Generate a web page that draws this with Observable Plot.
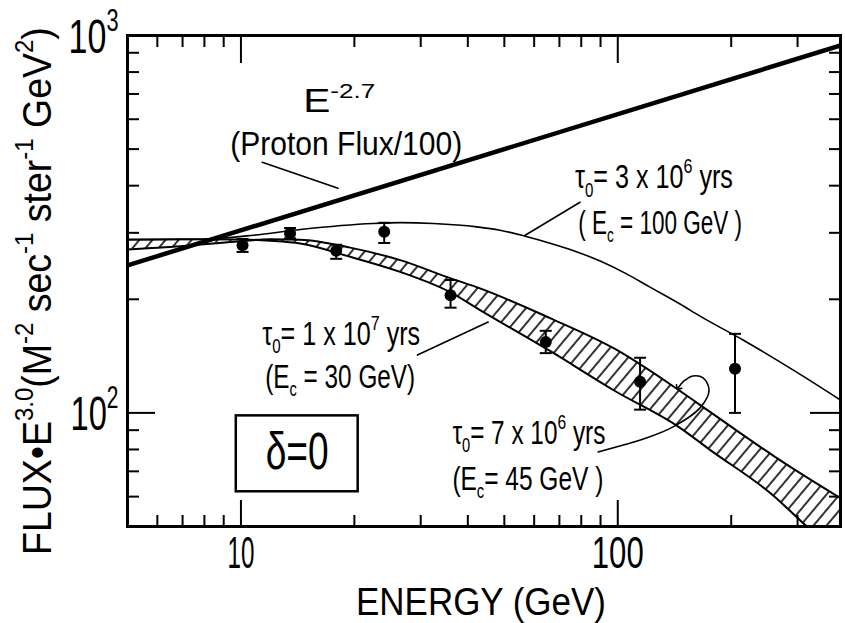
<!DOCTYPE html>
<html><head><meta charset="utf-8">
<script src="https://cdn.jsdelivr.net/npm/d3@7"></script>
<script src="https://cdn.jsdelivr.net/npm/@observablehq/plot@0.6"></script>
<style>
html,body{margin:0;padding:0;background:#fff;}
svg{display:block;}
</style></head><body><div id="chart"></div>
<script>
// ---- data ----
const pointEnergy = [10.1, 13.5, 17.9, 24.0, 36.0, 64.4, 114.6, 204.7];
const pointFlux   = [278, 299, 269, 302, 205, 154, 121, 131];
const pointLow    = [267, 290, 256, 282, 190, 144, 102, 100];
const pointHigh   = [289, 309, 279, 319, 225, 165, 140, 162];

const protonEnergy = [5, 390];
const protonFlux   = [246, 941];

const curve3e6Energy = [5.0, 7.8, 10.8, 14.4, 22.4, 26.5, 32.4, 42.3, 48.7, 56.8, 66.1, 77.0, 89.8, 104.6, 121.8, 146.3, 165.3, 215, 291.7, 396];
const curve3e6Flux   = [287.7, 288.5, 295.7, 306.2, 317.6, 319.2, 317.6, 311.1, 304.8, 293.9, 281.7, 268.3, 252.5, 234.6, 215.4, 194.3, 180.5, 156.0, 130.0, 107.1];

const bandEnergy = [5.0, 6.91, 9.96, 11.96, 14.37, 19.5, 26.45, 35.9, 43.1, 66.1, 98.3, 146.3, 175.7, 261.3, 310, 396];
const curve1e7Flux = [288.0, 288.5, 288.2, 285.9, 281.1, 259.2, 236.4, 208.9, 187.3, 145.9, 114.3, 91.3, 79.8, 59.9, 51.1, 42.1];
const curve7e6Flux = [271.1, 276.5, 285.1, 288.5, 287.7, 274.1, 254.0, 227.6, 213.7, 178.3, 147.7, 114.3, 100.6, 76.5, 68.5, 58.9];

const xTickValues = [10, 100];
const xTickLabels = ["10", "100"];
const yTickValues = [100, 1000];
const yTickLabels = ["10^{2}", "10^{3}"];
const xMinorTicks = [6, 7, 8, 9, 20, 30, 40, 50, 60, 70, 80, 90, 200, 300];
const yMinorTicks = [60, 70, 80, 90, 200, 300, 400, 500, 600, 700, 800, 900];
const yMajorTicks = [100];

const xLabel = "ENERGY (GeV)";
const yLabel = "FLUX•E^{3.0}(M^{-2} sec^{-1} ster^{-1} GeV^{2})";

const annotationText = ["E^{-2.7}", "(Proton Flux/100)", "τ_{0}= 3 x 10^{6} yrs", "( E_{c} = 100 GeV )",
  "τ_{0}= 1 x 10^{7} yrs", "(E_{c} = 30 GeV)", "τ_{0}= 7 x 10^{6} yrs", "(E_{c}= 45 GeV )"];
const annotationEnergy = [14.63, 9.37, 77.0, 78.5, 11.39, 11.6, 36.4, 36.4];
const annotationFlux   = [625.7, 481.4, 393.7, 297.5, 151.3, 116.5, 82.8, 62.6];

const arrowFromEnergy = [11.39, 79.4, 29.4];
const arrowFromFlux   = [461.4, 361.5, 142.3];
const arrowToEnergy   = [18.1, 56.8, 45.3];
const arrowToFlux     = [393.7, 295.7, 174.1];
const arrowBend       = [0, -25, 10];

const loopEnergy = [88.7, 119.6, 140.2, 165.3, 174.7, 168.4, 158.4, 149.9, 144.6];
const loopFlux   = [78.8, 85.9, 91.8, 103.1, 115.0, 123.8, 125.3, 121.5, 116.5];

const boxEnergy = [9.72, 20.47];
const boxFlux   = [61.8, 98.2];
const boxText = "δ=0";
const boxTextEnergy = 14.1;
const boxTextFlux = 78.8;

// ---- layout / style ----
const W = 845, H = 623, mL = 127, mR = 5, mT = 35, mB = 97;
const frameW = W - mL - mR, frameH = H - mT - mB;
const FONT = '"Liberation Sans Narrow", "Liberation Sans", Arial, sans-serif';
const textWidths = {
  "E^{-2.7}": 72, "(Proton Flux/100)": 232, "τ_{0}= 3 x 10^{6} yrs": 158, "( E_{c} = 100 GeV )": 164,
  "τ_{0}= 1 x 10^{7} yrs": 158, "(E_{c} = 30 GeV)": 150, "τ_{0}= 7 x 10^{6} yrs": 153, "(E_{c}= 45 GeV )": 151,
  "δ=0": 63, "ENERGY (GeV)": 250, "10": 27, "100": 52, "10^{2}": 48, "10^{3}": 50
};
textWidths[yLabel] = 528;

// ---- tables ----
const points = pointEnergy.map((e, i) => ({e, f: pointFlux[i], lo: pointLow[i], hi: pointHigh[i]}));
const proton = protonEnergy.map((e, i) => ({e, f: protonFlux[i]}));
const curve3e6 = curve3e6Energy.map((e, i) => ({e, f: curve3e6Flux[i]}));
const band = bandEnergy.map((e, i) => ({e, a: curve1e7Flux[i], b: curve7e6Flux[i]}));
const annotations = annotationText.map((t, i) => ({t, e: annotationEnergy[i], f: annotationFlux[i]}));
const arrows = arrowFromEnergy.map((e, i) => ({e1: e, f1: arrowFromFlux[i], e2: arrowToEnergy[i], f2: arrowToFlux[i], bend: arrowBend[i]}));
const loop = loopEnergy.map((e, i) => ({e, f: loopFlux[i]}));
const xTicks = xTickValues.map((v, i) => ({v, t: xTickLabels[i]}));
const yTicks = yTickValues.map((v, i) => ({v, t: yTickLabels[i]}));

const capSymbol = {draw(ctx, size) { const r = Math.sqrt(size / Math.PI); ctx.moveTo(-r, 0); ctx.lineTo(r, 0); }};

const chart = Plot.plot({
  width: W, height: H, marginLeft: mL, marginRight: mR, marginTop: mT, marginBottom: mB,
  x: {type: "log", domain: [5, 390], axis: null},
  y: {type: "log", domain: [50, 1000], axis: null},
  style: {fontFamily: FONT, background: "white", color: "black"},
  marks: [
    Plot.areaY(band, {x: "e", y1: "a", y2: "b", fill: "url(#hatch)", curve: "monotone-x", clip: true}),
    Plot.line(band, {x: "e", y: "a", stroke: "black", strokeWidth: 2, curve: "monotone-x", clip: true}),
    Plot.line(band, {x: "e", y: "b", stroke: "black", strokeWidth: 2, curve: "monotone-x", clip: true}),
    Plot.line(curve3e6, {x: "e", y: "f", stroke: "black", strokeWidth: 1.6, curve: "monotone-x", clip: true}),
    Plot.line(proton, {x: "e", y: "f", stroke: "black", strokeWidth: 4.5, clip: true}),
    Plot.ruleX(points, {x: "e", y1: "lo", y2: "hi", stroke: "black", strokeWidth: 2}),
    Plot.dot(points, {x: "e", y: "lo", symbol: capSymbol, r: 6, stroke: "black", strokeWidth: 2}),
    Plot.dot(points, {x: "e", y: "hi", symbol: capSymbol, r: 6, stroke: "black", strokeWidth: 2}),
    Plot.dot(points, {x: "e", y: "f", r: 6, fill: "black"}),
    Plot.rect([boxText], {x1: () => boxEnergy[0], x2: () => boxEnergy[1], y1: () => boxFlux[0], y2: () => boxFlux[1], fill: "white", stroke: "black", strokeWidth: 2.5}),
    Plot.text([boxText], {x: () => boxTextEnergy, y: () => boxTextFlux, text: d => d, fontSize: 52, lineAnchor: "middle", textAnchor: "middle", fill: "black"}),
    Plot.text(annotations, {x: "e", y: "f", text: "t", textAnchor: "start", lineAnchor: "bottom", fontSize: 33, fill: "black"}),
    Plot.arrow(arrows, {x1: "e1", y1: "f1", x2: "e2", y2: "f2", bend: "bend", stroke: "black", strokeWidth: 1.6, headLength: 11}),
    Plot.line(loop, {x: "e", y: "f", curve: "catmull-rom", stroke: "black", strokeWidth: 1.6, markerEnd: "arrow"}),
    // ticks, inward
    Plot.tickX(xMinorTicks, {x: d => d, insetTop: frameH - 11, strokeWidth: 2}),
    Plot.tickX(xTickValues, {x: d => d, insetTop: frameH - 26, strokeWidth: 2}),
    Plot.tickX(xMinorTicks, {x: d => d, insetBottom: frameH - 12, strokeWidth: 2}),
    Plot.tickX(xTickValues, {x: d => d, insetBottom: frameH - 28, strokeWidth: 2}),
    Plot.tickY(yMinorTicks, {y: d => d, insetRight: frameW - 12, strokeWidth: 2}),
    Plot.tickY(yMajorTicks, {y: d => d, insetRight: frameW - 28, strokeWidth: 2}),
    Plot.tickY(yMinorTicks, {y: d => d, insetLeft: frameW - 11, strokeWidth: 2}),
    Plot.tickY(yMajorTicks, {y: d => d, insetLeft: frameW - 30, strokeWidth: 2}),
    Plot.frame({stroke: "black", strokeWidth: 3}),
    // tick labels
    Plot.text(xTicks, {x: "v", text: "t", frameAnchor: "bottom", lineAnchor: "bottom", dy: 41, fontSize: 45, fill: "black"}),
    Plot.text(yTicks, {y: "v", text: "t", frameAnchor: "left", textAnchor: "end", lineAnchor: "bottom", dx: -9, dy: 17, fontSize: 48, fill: "black"}),
    // axis titles
    Plot.text([xLabel], {text: d => d, frameAnchor: "bottom", lineAnchor: "bottom", dx: -3, dy: 88, fontSize: 38, fill: "black"}),
    Plot.text([yLabel], {text: d => d, frameAnchor: "left", textAnchor: "start", rotate: -90, lineAnchor: "bottom", dx: -77, dy: 274, fontSize: 40, fill: "black"})
  ]
});

const ns = "http://www.w3.org/2000/svg";
const svg = chart.tagName.toLowerCase() === "svg" ? chart : chart.querySelector("svg");
const defs = document.createElementNS(ns, "defs");
defs.innerHTML = '<pattern id="hatch" patternUnits="userSpaceOnUse" width="10" height="10" patternTransform="rotate(40)"><rect width="10" height="10" fill="white"/><line x1="1" y1="0" x2="1" y2="10" stroke="black" stroke-width="1.6"/></pattern>';
svg.insertBefore(defs, svg.firstChild);
document.getElementById("chart").appendChild(chart);

function richify(t) {
  const s = t.textContent;
  if (!/[\^_]\{/.test(s)) return;
  while (t.firstChild) t.removeChild(t.firstChild);
  const re = /([\^_])\{([^}]*)\}/g;
  let last = 0, m, shift = 0;
  const add = (str, kind) => {
    if (!str) return;
    const sp = document.createElementNS(ns, "tspan");
    const target = kind === "^" ? -0.45 : kind === "_" ? 0.25 : 0;
    const size = kind === "^" ? 0.64 : kind === "_" ? 0.6 : 1;
    if (kind) sp.setAttribute("font-size", (size * 100) + "%");
    const d = target - shift;
    if (d) sp.setAttribute("dy", (d / size).toFixed(3) + "em");
    shift = target;
    sp.textContent = str;
    t.appendChild(sp);
  };
  while ((m = re.exec(s))) { add(s.slice(last, m.index), null); add(m[2], m[1]); last = re.lastIndex; }
  add(s.slice(last), null);
}
svg.querySelectorAll("text").forEach(t => {
  const s = t.textContent;
  const w = textWidths[s];
  richify(t);
  if (w) {
    const natural = t.getComputedTextLength();
    if (natural > 0) {
      const sx = w / natural;
      const tr = t.getAttribute("transform") || "";
      t.setAttribute("transform", (tr + ` scale(${sx.toFixed(4)},1)`).trim());
    }
  }
});
</script>
</body></html>
